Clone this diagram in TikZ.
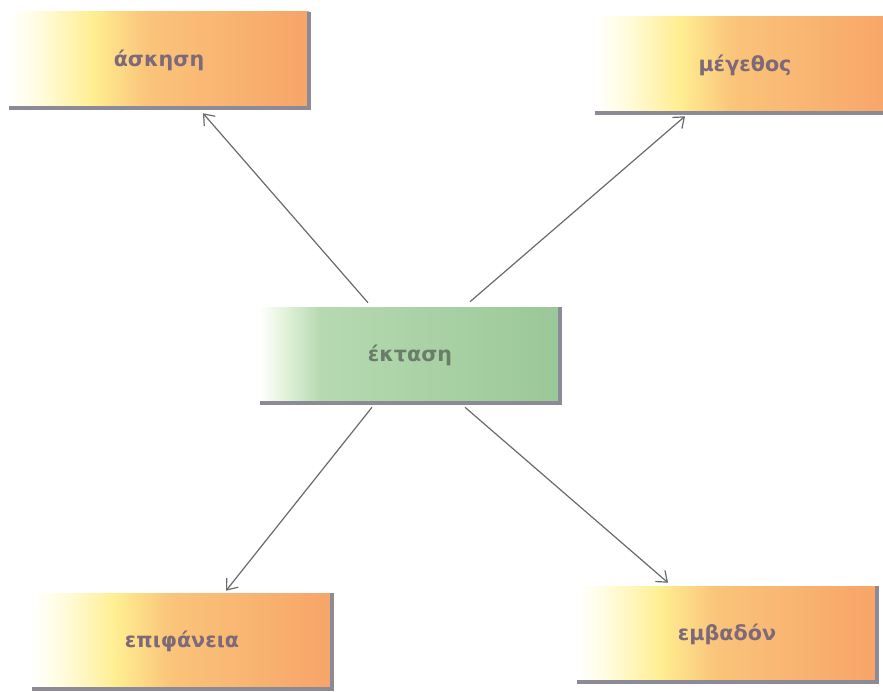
\documentclass[tikz,border=0pt]{standalone}
\usepackage{fontspec}
\setmainfont{DejaVu Sans}
\usetikzlibrary{arrows.meta}
\definecolor{ofa}{RGB}{255,252,222}
\definecolor{ofb}{RGB}{255,238,145}
\definecolor{ofc}{RGB}{250,196,122}
\definecolor{ofd}{RGB}{247,164,104}
\definecolor{gfa}{RGB}{228,243,218}
\definecolor{gfb}{RGB}{182,217,177}
\definecolor{gfc}{RGB}{155,200,152}
\definecolor{edgegray}{RGB}{140,138,150}
\definecolor{arrowgray}{RGB}{105,105,110}
\definecolor{otext}{RGB}{125,105,120}
\definecolor{gtext}{RGB}{105,125,105}
\pgfdeclarehorizontalshading{orangefade}{100bp}{color(0bp)=(white); color(25bp)=(white); color(30bp)=(ofa); color(39bp)=(ofb); color(48bp)=(ofc); color(75bp)=(ofd); color(100bp)=(ofd)}
\pgfdeclarehorizontalshading{greenfade}{100bp}{color(0bp)=(white); color(25bp)=(white); color(29bp)=(gfa); color(35bp)=(gfb); color(75bp)=(gfc); color(100bp)=(gfc)}
\tikzset{
  box/.style={rectangle, minimum width=225pt, minimum height=72pt, inner sep=0pt,
    font=\bfseries\fontsize{15.5}{18}\selectfont},
  obox/.style={box, shading=orangefade, text=otext},
  gbox/.style={box, shading=greenfade, text=gtext},
  rim/.style={draw=edgegray, line width=3pt},
  link/.style={draw=arrowgray, line width=0.9pt, -{Straight Barb[length=7pt,width=11pt,line width=0.9pt]}}
}
\begin{document}
\begin{tikzpicture}[x=0.75pt,y=-0.75pt]
\useasboundingbox (0,0) rectangle (883,692);
\node[obox] (a) at (159,60) {άσκηση};
\node[obox] (m) at (745,65) {μέγεθος};
\node[gbox] (c) at (410,355) {έκταση};
\node[obox] (e) at (182,641) {επιφάνεια};
\node[obox] (b) at (727,634) {εμβαδόν};
\foreach \n in {a,m,c,e,b}{
  \draw[rim] (\n.south west) -- (\n.south east) -- (\n.north east);
}
\draw[link] ([shift={(-42,-4)}]c.north) -- ([shift={(44,5)}]a.south);
\draw[link] ([shift={(60,-5)}]c.north) -- ([shift={(-60,3)}]m.south);
\draw[link] ([shift={(-38,4)}]c.south) -- ([shift={(44,-2)}]e.north);
\draw[link] ([shift={(55,4)}]c.south) -- ([shift={(-59,-3)}]b.north);
\end{tikzpicture}
\end{document}
